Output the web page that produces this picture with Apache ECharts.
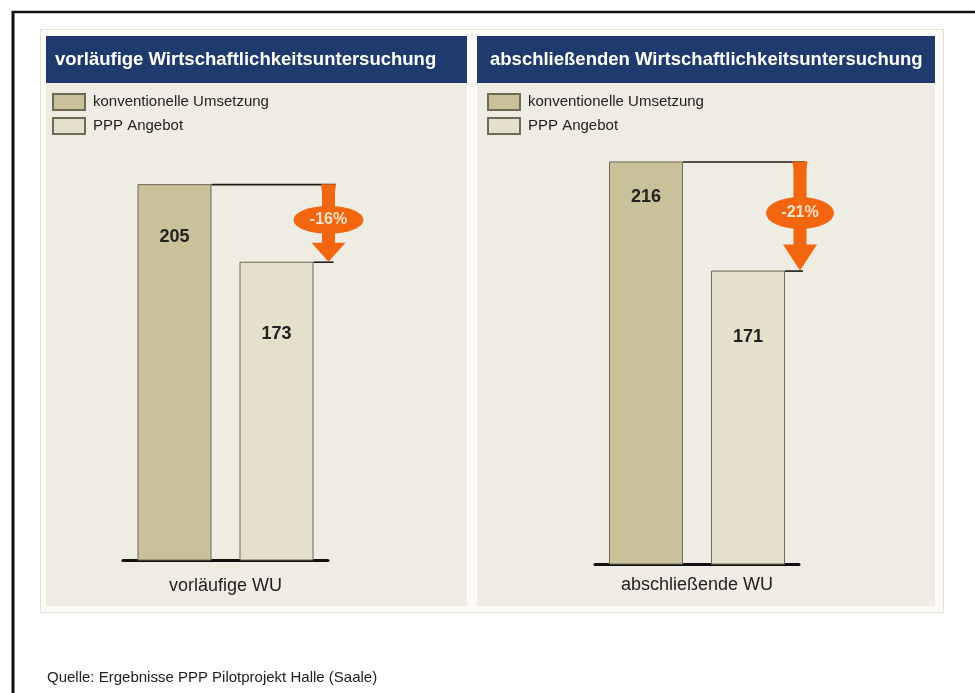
<!DOCTYPE html>
<html>
<head>
<meta charset="utf-8">
<script src="https://cdn.jsdelivr.net/npm/echarts@6/dist/echarts.min.js"></script>
<style>
  html, body { margin: 0; padding: 0; background: #ffffff; }
  #chart { width: 975px; height: 693px; }
</style>
</head>
<body>
<div id="chart"></div>
<script>
// ---- data ----
const panelTitles = ['vorläufige Wirtschaftlichkeitsuntersuchung', 'abschließenden Wirtschaftlichkeitsuntersuchung'];
const categories = ['vorläufige WU', 'abschließende WU'];
const seriesNames = ['konventionelle Umsetzung', 'PPP Angebot'];
const konventionell = [205, 216];
const pppAngebot = [173, 171];
const changeLabels = ['-16%', '-21%'];
const sourceText = 'Quelle: Ergebnisse PPP Pilotprojekt Halle (Saale)';

// ---- layout / style ----
const FONT = '"Liberation Sans", Arial, sans-serif';
const C_CONV = '#c8c199';
const C_PPP = '#e4e0cb';
const C_BAR_BORDER = '#6e6a58';
const C_PANEL = '#efece3';
const C_HEAD = '#1f3a6c';
const C_ORANGE = '#f2660f';
const BAR_W = 74;
const BAR_GAP = 28;
const grids = [
  { left: 123, top: 75, width: 205, height: 485 },
  { left: 595, top: 79, width: 204, height: 485 }
];
const panels = [
  { x: 46, w: 421, titleX: 55, legendX: 52, labelMargin: 17 },
  { x: 477, w: 458, titleX: 490, legendX: 487, labelMargin: 12 }
];
const labelOffsets = [[53, 72], [36, 66]];
const arrowLayout = [
  { dx: 103, lineEnd1: 110, lineEnd2: 108, headH: 19, ellDy: -3, rx: 35, ry: 14 },
  { dx: 103, lineEnd1: 108, lineEnd2: 106, headH: 26, ellDy: -3, rx: 34, ry: 16 }
];

function arrowRenderer(p) {
  const L = arrowLayout[p];
  return function (params, api) {
    const c1 = api.coord([api.value(0), api.value(1)]);
    const c2 = api.coord([api.value(0), api.value(2)]);
    const cx = c1[0];
    const y1 = c1[1], y2 = c2[1];
    const bar1Right = cx - BAR_GAP / 2;
    const bar2Right = cx + BAR_GAP / 2 + BAR_W;
    const ax = cx + L.dx;
    const sh = 6.5, hh = 17;
    const hy = y2 - L.headH;
    const ey = (y1 + y2) / 2 + L.ellDy;
    return {
      type: 'group',
      children: [
        { type: 'line', shape: { x1: bar1Right, y1: y1 + 0.5, x2: cx + L.lineEnd1, y2: y1 + 0.5 }, style: { stroke: '#1a1a1a', lineWidth: 1.6 } },
        { type: 'line', shape: { x1: bar2Right, y1: y2 + 0.5, x2: cx + L.lineEnd2, y2: y2 + 0.5 }, style: { stroke: '#1a1a1a', lineWidth: 1.6 } },
        { type: 'polygon', shape: { points: [[ax - sh - 1, y1], [ax + sh + 1, y1], [ax + sh, y1 + 8], [ax + sh, hy], [ax + hh, hy], [ax, y2], [ax - hh, hy], [ax - sh, hy], [ax - sh, y1 + 8]] }, style: { fill: C_ORANGE } },
        { type: 'circle', x: ax, y: ey, scaleY: L.ry / L.rx, shape: { cx: 0, cy: 0, r: L.rx }, style: { fill: C_ORANGE } },
        { type: 'text', x: ax, y: ey, style: { text: changeLabels[p], fill: '#fde3cc', font: 'bold 16px ' + FONT, align: 'center', verticalAlign: 'middle' } }
      ]
    };
  };
}

const chart = echarts.init(document.getElementById('chart'), null, { renderer: 'canvas' });

const graphics = [
  // black frame
  { type: 'line', shape: { x1: 12, y1: 12, x2: 975, y2: 12 }, style: { stroke: '#111', lineWidth: 2.5 }, silent: true },
  { type: 'line', shape: { x1: 13, y1: 11, x2: 13, y2: 693 }, style: { stroke: '#111', lineWidth: 3 }, silent: true },
  // outer light box
  { type: 'rect', shape: { x: 40.5, y: 29.5, width: 903, height: 583 }, style: { fill: '#fcfbf7', stroke: '#e4e0d4', lineWidth: 1 }, silent: true, z: -10 },
  { type: 'text', x: 47, y: 678, style: { text: sourceText, font: '15px ' + FONT, fill: '#222', verticalAlign: 'middle' } }
];
panels.forEach((pn, i) => {
  graphics.push({ type: 'rect', shape: { x: pn.x, y: 83, width: pn.w, height: 523 }, style: { fill: C_PANEL }, silent: true, z: -9 });
  graphics.push({ type: 'rect', shape: { x: pn.x, y: 36, width: pn.w, height: 47 }, style: { fill: C_HEAD }, silent: true, z: -9 });
  graphics.push({ type: 'text', x: pn.titleX, y: 60, style: { text: panelTitles[i], font: 'bold 18.5px ' + FONT, fill: '#ffffff', verticalAlign: 'middle' } });
});

const option = {
  animation: false,
  backgroundColor: '#ffffff',
  graphic: graphics,
  legend: panels.map((pn) => ({
    left: pn.legendX, top: 93, orient: 'vertical', padding: 0,
    itemWidth: 32, itemHeight: 16, itemGap: 6,
    icon: 'rect', selectedMode: false,
    data: seriesNames,
    textStyle: { fontFamily: FONT, fontSize: 15, color: '#222', padding: [0, 0, 0, 3] }
  })),
  grid: grids.map(g => Object.assign({}, g, { containLabel: false })),
  xAxis: grids.map((g, i) => ({
    type: 'category', gridIndex: i, data: [categories[i]],
    axisLine: { lineStyle: { color: '#111', width: 3 } },
    axisTick: { show: false },
    axisLabel: { fontFamily: FONT, fontSize: 18, color: '#222', margin: panels[i].labelMargin }
  })),
  yAxis: grids.map((g, i) => ({
    type: 'value', gridIndex: i, min: 50, max: 250, show: false, splitLine: { show: false }
  })),
  series: []
};

[0, 1].forEach(p => {
  option.series.push({
    name: seriesNames[0], type: 'bar', xAxisIndex: p, yAxisIndex: p,
    barWidth: BAR_W, barGap: (BAR_GAP / BAR_W * 100).toFixed(1) + '%',
    itemStyle: { color: C_CONV, borderColor: C_BAR_BORDER, borderWidth: 1 },
    data: [{ value: konventionell[p], label: { position: ['50%', labelOffsets[p][0]] } }],
    label: { show: true, align: 'center', verticalAlign: 'middle', fontFamily: FONT, fontSize: 18, fontWeight: 'bold', color: '#222' }
  });
  option.series.push({
    name: seriesNames[1], type: 'bar', xAxisIndex: p, yAxisIndex: p,
    barWidth: BAR_W, barGap: (BAR_GAP / BAR_W * 100).toFixed(1) + '%',
    itemStyle: { color: C_PPP, borderColor: C_BAR_BORDER, borderWidth: 1 },
    data: [{ value: pppAngebot[p], label: { position: ['50%', labelOffsets[p][1]] } }],
    label: { show: true, align: 'center', verticalAlign: 'middle', fontFamily: FONT, fontSize: 18, fontWeight: 'bold', color: '#222' }
  });
  option.series.push({
    type: 'custom', xAxisIndex: p, yAxisIndex: p, z: 5,
    renderItem: arrowRenderer(p),
    encode: { x: 0, y: [1, 2] },
    data: [[0, konventionell[p], pppAngebot[p]]]
  });
});

chart.setOption(option);
</script>
</body>
</html>
